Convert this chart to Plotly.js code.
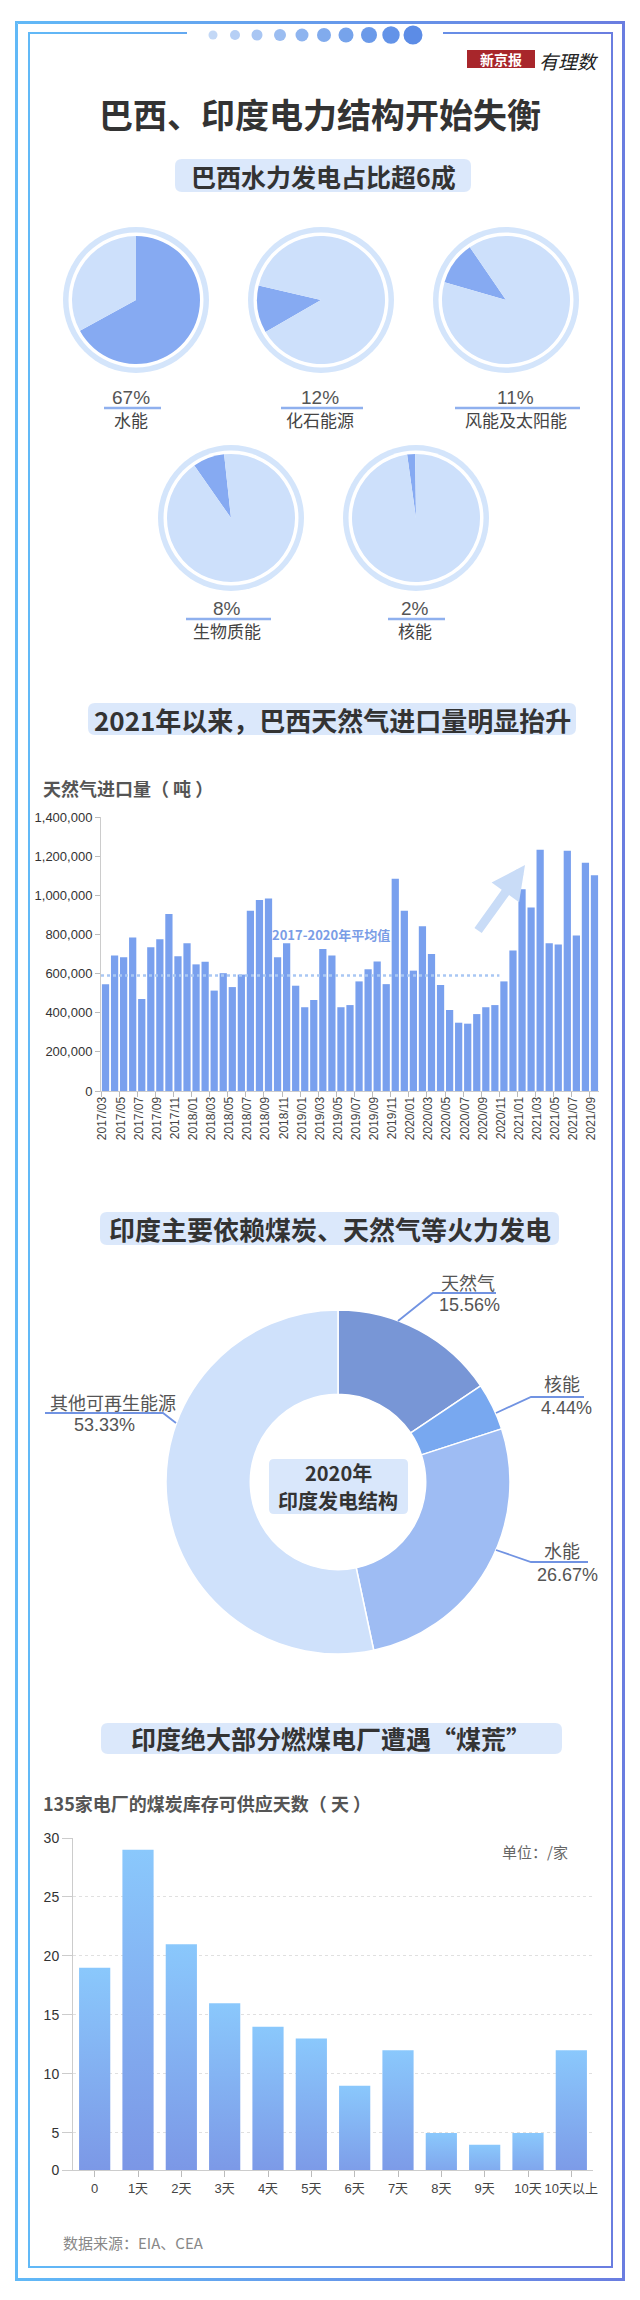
<!DOCTYPE html>
<html><head><meta charset="utf-8">
<script src="https://cdn.plot.ly/plotly-3.0.1.min.js"></script>
<style>html,body{margin:0;padding:0;background:#fff}#chart{width:640px;height:2300px}</style>
</head><body><div id="chart"></div>
<script>
// ================= DATA =================
const brazilSources = ['水能', '化石能源', '风能及太阳能', '生物质能', '核能'];
const brazilShares = [67, 12, 11, 8, 2];
const brazilShareLabels = ['67%', '12%', '11%', '8%', '2%'];
const brazilSliceStart = [0, 240, 286, 325, 352]; // where each highlighted slice begins (deg, clockwise from 12 o'clock)

const gasMonths = [
  '2017/03','2017/04','2017/05','2017/06','2017/07','2017/08','2017/09','2017/10','2017/11','2017/12',
  '2018/01','2018/02','2018/03','2018/04','2018/05','2018/06','2018/07','2018/08','2018/09','2018/10','2018/11','2018/12',
  '2019/01','2019/02','2019/03','2019/04','2019/05','2019/06','2019/07','2019/08','2019/09','2019/10','2019/11','2019/12',
  '2020/01','2020/02','2020/03','2020/04','2020/05','2020/06','2020/07','2020/08','2020/09','2020/10','2020/11','2020/12',
  '2021/01','2021/02','2021/03','2021/04','2021/05','2021/06','2021/07','2021/08','2021/09'
];
const gasImports = [
  546000, 692000, 683000, 784000, 470000, 734000, 775000, 904000, 688000, 755000,
  647000, 660000, 513000, 602000, 531000, 595000, 921000, 976000, 984000, 683000, 755000, 538000,
  428000, 465000, 725000, 692000, 428000, 439000, 560000, 622000, 662000, 546000, 1085000, 921000,
  615000, 842000, 700000, 541000, 414000, 349000, 344000, 393000, 428000, 439000, 560000, 718000,
  1031000, 937000, 1233000, 755000, 749000, 1228000, 795000, 1166000, 1103000
];
const gasAverage = 590000;
const gasAverageLabel = '2017-2020年平均值';
const gasAvgFrom = '2017/03';
const gasAvgTo = '2020/10';

const indiaSources = ['天然气', '核能', '水能', '其他可再生能源'];
const indiaShares = [15.56, 4.44, 26.67, 53.33];
const indiaShareLabels = ['15.56%', '4.44%', '26.67%', '53.33%'];

const stockDays = ['0', '1天', '2天', '3天', '4天', '5天', '6天', '7天', '8天', '9天', '10天', '10天以上'];
const plantCounts = [19, 29, 21, 16, 14, 13, 9, 12, 5, 4, 5, 12];
const coalTickVals = [5, 10, 15, 20, 25, 30];
const coalAxisFloor = 1.86; // the chart's baseline (labelled "0") sits above true zero

// ================= HELPERS =================
const W = 640, H = 2300;
const CJK = '"Noto Sans CJK SC", sans-serif';
const NUM = '"Liberation Sans", Arial, "Noto Sans CJK SC", sans-serif';
const dx = (a, b) => [a / W, b / W];
const dy = (t, b) => [1 - b / H, 1 - t / H];

const shapes = [];
const ann = [];
const P = {xref: 'x3', yref: 'y3'};

function rrect(x0, y0, x1, y1, r, fill) {
  shapes.push(Object.assign({type: 'path', layer: 'below', fillcolor: fill, line: {width: 0},
    path: `M${x0 + r},${y0} L${x1 - r},${y0} Q${x1},${y0} ${x1},${y0 + r} L${x1},${y1 - r} Q${x1},${y1} ${x1 - r},${y1} L${x0 + r},${y1} Q${x0},${y1} ${x0},${y1 - r} L${x0},${y0 + r} Q${x0},${y0} ${x0 + r},${y0} Z`}, P));
}
function circ(cx, cy, r, fill) {
  shapes.push(Object.assign({type: 'circle', layer: 'below', x0: cx - r, x1: cx + r, y0: cy - r, y1: cy + r,
    fillcolor: fill, line: {width: 0}}, P));
}
function seg(pts, color, width, layer) {
  shapes.push(Object.assign({type: 'path', layer: layer || 'above', line: {color: color, width: width},
    path: 'M' + pts.map(p => p[0] + ',' + p[1]).join(' L')}, P));
}
function T(x, y, text, size, color, family, weight, xanchor) {
  ann.push(Object.assign({x: x, y: y, text: text, showarrow: false, xanchor: xanchor || 'center', yanchor: 'middle',
    font: {size: size, color: color, family: family, weight: weight || 'normal'}}, P));
}

const traces = [];

// ---------- frame (gradient border) ----------
const frameGrad = {type: 'horizontal', colorscale: [[0, '#61b9f7'], [1, '#6a7de0']]};
traces.push({type: 'scatter', xaxis: 'x3', yaxis: 'y3', mode: 'lines', fill: 'toself', hoverinfo: 'skip',
  line: {width: 0, color: 'rgba(0,0,0,0)'}, fillgradient: frameGrad, showlegend: false,
  x: [15, 625, 625, 15, 15, 18, 18, 622, 622, 18, 15],
  y: [21, 21, 2281, 2281, 21, 24, 2278, 2278, 24, 24, 21]});
traces.push({type: 'scatter', xaxis: 'x3', yaxis: 'y3', mode: 'lines', fill: 'toself', hoverinfo: 'skip',
  line: {width: 0, color: 'rgba(0,0,0,0)'}, fillgradient: frameGrad, showlegend: false,
  x: [187, 28, 28, 613, 613, 443, 443, 611, 611, 30, 30, 187],
  y: [32, 32, 2268, 2268, 32, 32, 34, 34, 2266, 2266, 34, 34]});

// dots on top border
const dotX = [213, 235, 257, 280, 302, 324, 346, 369, 391, 413];
const dotR = [4.5, 5, 5.5, 6, 6.5, 7, 7.5, 8, 8.7, 9.5];
const dotC = ['#c3d8f6', '#b6cff5', '#a9c6f3', '#9bbdf1', '#8eb4ef', '#81abed', '#76a3eb', '#6b9ae9', '#6393e8', '#5c8ce6'];
dotX.forEach((x, i) => circ(x, 35, dotR[i], dotC[i]));

// logo
shapes.push(Object.assign({type: 'rect', layer: 'below', x0: 467, x1: 535, y0: 50, y1: 68, fillcolor: '#a8262b', line: {width: 0}}, P));
T(501, 59, '新京报', 14, '#ffffff', CJK, 'bold');
T(569, 60, '<i>有理数</i>', 19, '#222', CJK, 'normal');

// ---------- titles ----------
T(320, 113, '巴西、印度电力结构开始失衡', 34, '#333', CJK, 'bold');
rrect(175, 159, 471, 192, 7, '#dbe8fb');
T(323, 176, '巴西水力发电占比超6成', 25, '#333', CJK, 'bold');

// ---------- Brazil pies ----------
const pieCenters = [[136, 300], [321, 300], [506, 300], [231, 518], [416, 518]];
const pieR = 64;
const labelRows = [397, 397, 397, 608, 608];
const underline = [[104, 161], [281, 363], [455, 580], [186, 271], [388, 445]];
brazilSources.forEach((name, i) => {
  const [cx, cy] = pieCenters[i];
  circ(cx, cy, 73, '#d4e5fb');
  circ(cx, cy, 67.5, '#ffffff');
  traces.push({type: 'pie', values: [brazilShares[i], 100 - brazilShares[i]], labels: [name, '其余'],
    sort: false, direction: 'clockwise', rotation: brazilSliceStart[i], textinfo: 'none', hoverinfo: 'skip',
    marker: {colors: ['#86aaf2', '#cde0fb'], line: {width: 0}}, showlegend: false,
    domain: {x: dx(cx - pieR, cx + pieR), y: dy(cy - pieR, cy + pieR)}});
  const ly = labelRows[i];
  const [u0, u1] = underline[i];
  const mid = (u0 + u1) / 2;
  seg([[u0, ly + 11], [u1, ly + 11]], '#8fb0ee', 2.5);
  T(mid - 2, ly, brazilShareLabels[i], 19, '#555', NUM);
  T(mid - 2, ly + 22, name, 17, '#444', CJK);
});

// ---------- Section 2: gas imports ----------
rrect(88, 703, 576, 735, 7, '#dbe8fb');
T(332, 719, '2021年以来，巴西天然气进口量明显抬升', 26, '#333', CJK, 'bold');
T(41, 788, '天然气进口量（ 吨 ）', 18, '#555', CJK, 'bold', 'left');

traces.push({type: 'bar', x: gasMonths, y: gasImports, xaxis: 'x', yaxis: 'y', width: 0.8,
  marker: {color: '#79a0ee'}, hoverinfo: 'skip', showlegend: false});

shapes.push({type: 'line', xref: 'x', yref: 'y', layer: 'above',
  x0: gasMonths.indexOf(gasAvgFrom) - 0.5, x1: gasMonths.indexOf(gasAvgTo) + 0.5,
  y0: gasAverage, y1: gasAverage, line: {color: '#a9c7f4', width: 2.5, dash: 'dot'}});
T(331, 934, gasAverageLabel, 13, '#7a9de6', CJK, 'bold');
ann.push(Object.assign({x: 525, y: 865, ax: 477, ay: 932, axref: 'x3', ayref: 'y3', text: '', showarrow: true,
  arrowhead: 2, arrowsize: 0.75, arrowwidth: 9, arrowcolor: '#c9dcf7', standoff: 0}, P));

// ---------- Section 3: India donut ----------
rrect(100, 1212, 559, 1245, 7, '#dbe8fb');
T(330, 1228, '印度主要依赖煤炭、天然气等火力发电', 26, '#333', CJK, 'bold');
const donut = {cx: 338, cy: 1482, r: 172};
traces.push({type: 'pie', values: indiaShares, labels: indiaSources, sort: false, direction: 'clockwise',
  rotation: 0, hole: 0.51, textinfo: 'none', hoverinfo: 'skip', showlegend: false,
  marker: {colors: ['#7896d6', '#78a8f0', '#9ebcf3', '#cfe1fb'], line: {color: '#ffffff', width: 1.5}},
  domain: {x: dx(donut.cx - donut.r, donut.cx + donut.r), y: dy(donut.cy - donut.r, donut.cy + donut.r)}});
rrect(269, 1459, 408, 1514, 5, '#d9e7fb');
T(338, 1472, '2020年', 20, '#333', CJK, 'bold');
T(338, 1500, '印度发电结构', 20, '#333', CJK, 'bold');

const leaderColor = '#7193e2';
const leaders = [
  [[398, 1321], [433, 1293], [496, 1293]],
  [[496, 1413], [531, 1397], [584, 1397]],
  [[496, 1550], [531, 1562], [588, 1562]],
  [[176, 1423], [163, 1413], [45, 1413]]
];
const donutLabelPos = [[468, 1282, 469, 1305], [562, 1383, 566, 1408], [562, 1550, 567, 1575], [113, 1402, 104, 1425]];
indiaSources.forEach((name, i) => {
  seg(leaders[i], leaderColor, 1.8);
  const p = donutLabelPos[i];
  T(p[0], p[1], name, 18, '#555', CJK);
  T(p[2], p[3], indiaShareLabels[i], 18, '#555', NUM);
});

// ---------- Section 4: coal stock ----------
rrect(101, 1723, 562, 1754, 7, '#dbe8fb');
T(331, 1738, '印度绝大部分燃煤电厂遭遇“煤荒”', 25, '#333', CJK, 'bold');
T(41, 1803, '135家电厂的煤炭库存可供应天数（ 天 ）', 18, '#555', CJK, 'bold', 'left');
T(535, 1851, '单位：/家', 15, '#666', CJK);
T(61, 2242, '数据来源：EIA、CEA', 15, '#888', CJK, 'normal', 'left');

traces.push({type: 'bar', x: stockDays, y: plantCounts, xaxis: 'x2', yaxis: 'y2', width: 0.72,
  marker: {color: '#82aef2'}, hoverinfo: 'skip', showlegend: false});

// ================= LAYOUT =================
const layout = {
  width: W, height: H, margin: {l: 0, r: 0, t: 0, b: 0},
  paper_bgcolor: '#ffffff', plot_bgcolor: 'rgba(0,0,0,0)', showlegend: false,
  xaxis: {domain: dx(101, 599), anchor: 'y', type: 'category', range: [-0.5, gasMonths.length - 0.5],
    tickmode: 'linear', tick0: 0, dtick: 2, tickson: 'boundaries', ticks: 'outside', ticklen: 5,
    tickcolor: '#bbb', showline: true, linecolor: '#ccc', linewidth: 1, tickangle: -90, ticklabelshift: -3,
    tickfont: {family: NUM, size: 12, color: '#444'}, showgrid: false, fixedrange: true},
  yaxis: {domain: dy(817, 1091), anchor: 'x', range: [0, 1400000], dtick: 200000, tickformat: ',',
    ticks: 'outside', ticklen: 5, tickcolor: '#bbb', showline: true, linecolor: '#ccc', showgrid: false,
    zeroline: false, tickfont: {family: NUM, size: 13, color: '#333'}, fixedrange: true},
  xaxis2: {domain: dx(73, 593), anchor: 'y2', type: 'category', ticks: 'outside', ticklen: 6,
    tickcolor: '#bbb', showline: true, linecolor: '#ccc', showgrid: false, tickangle: 0,
    tickfont: {family: NUM, size: 13, color: '#444'}, fixedrange: true},
  yaxis2: {domain: dy(1838, 2170), anchor: 'x2', range: [coalAxisFloor, 30], tickmode: 'array',
    tickvals: [coalAxisFloor].concat(coalTickVals), ticktext: ['0'].concat(coalTickVals.map(String)),
    showgrid: true, gridcolor: '#e0e0e0', griddash: 'dot', gridwidth: 1, ticks: 'outside', ticklen: 10,
    tickcolor: '#ccc', showline: true, linecolor: '#ccc', zeroline: false,
    tickfont: {family: NUM, size: 14, color: '#333'}, fixedrange: true},
  xaxis3: {domain: [0, 1], anchor: 'y3', range: [0, W], visible: false, fixedrange: true},
  yaxis3: {domain: [0, 1], anchor: 'x3', range: [H, 0], visible: false, fixedrange: true},
  shapes: shapes, annotations: ann
};

Plotly.newPlot('chart', traces, layout, {staticPlot: true, displayModeBar: false}).then(gd => {
  try {
    const svg = gd.querySelector('svg.main-svg');
    const ns = 'http://www.w3.org/2000/svg';
    let defs = svg.querySelector('defs');
    if (!defs) { defs = document.createElementNS(ns, 'defs'); svg.insertBefore(defs, svg.firstChild); }
    const lg = document.createElementNS(ns, 'linearGradient');
    lg.setAttribute('id', 'coalBarGrad');
    lg.setAttribute('x1', '0'); lg.setAttribute('y1', '0'); lg.setAttribute('x2', '0'); lg.setAttribute('y2', '1');
    [['0', '#8ac8fc'], ['1', '#7a93e4']].forEach(s => {
      const st = document.createElementNS(ns, 'stop');
      st.setAttribute('offset', s[0]); st.setAttribute('stop-color', s[1]);
      lg.appendChild(st);
    });
    defs.appendChild(lg);
    gd.querySelectorAll('.subplot.x2y2 .barlayer path').forEach(p => { p.style.fill = 'url(#coalBarGrad)'; });
  } catch (e) {}
});
</script>
</body></html>
